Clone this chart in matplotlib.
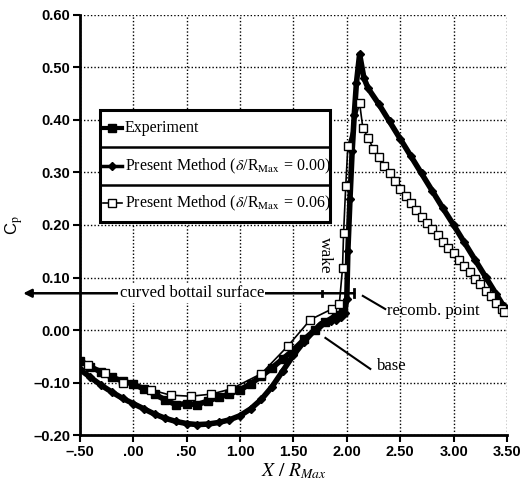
import matplotlib
matplotlib.use('Agg')
import matplotlib.pyplot as plt
from matplotlib.patches import Rectangle

plt.rcParams['mathtext.fontset'] = 'stix'

# Experiment
x_exp = [-0.50, -0.40, -0.30, -0.20, -0.10, 0.00, 0.10, 0.20, 0.30, 0.40, 0.50, 0.60,
         0.70, 0.80, 0.90, 1.00, 1.10, 1.20, 1.30, 1.40, 1.50, 1.60, 1.70, 1.80, 1.90, 1.96]
cp_exp = [-0.058, -0.070, -0.080, -0.090, -0.097, -0.103, -0.112, -0.122, -0.133, -0.142,
          -0.140, -0.142, -0.135, -0.128, -0.122, -0.114, -0.102, -0.088, -0.072, -0.055,
          -0.038, -0.018, 0.000, 0.015, 0.028, 0.035]

# Present Method, delta/R = 0.00
x_m0 = [-0.50, -0.40, -0.30, -0.20, -0.10, 0.00, 0.10, 0.20, 0.30, 0.40, 0.50, 0.60, 0.70,
        0.80, 0.90, 1.00, 1.10, 1.20, 1.30, 1.40, 1.50, 1.60, 1.70, 1.75, 1.80, 1.85, 1.90,
        1.95, 1.98, 2.00, 2.01, 2.03, 2.05, 2.07, 2.09, 2.12, 2.16, 2.20, 2.30, 2.40, 2.50,
        2.60, 2.70, 2.80, 2.90, 3.00, 3.10, 3.20, 3.30, 3.40, 3.47]
cp_m0 = [-0.075, -0.090, -0.105, -0.118, -0.130, -0.140, -0.150, -0.160, -0.168, -0.174,
         -0.178, -0.180, -0.179, -0.176, -0.171, -0.163, -0.150, -0.132, -0.108, -0.078,
         -0.048, -0.022, 0.000, 0.010, 0.015, 0.018, 0.020, 0.025, 0.032, 0.060, 0.150,
         0.250, 0.340, 0.410, 0.470, 0.525, 0.480, 0.460, 0.430, 0.397, 0.364, 0.331, 0.298,
         0.265, 0.232, 0.200, 0.167, 0.134, 0.101, 0.068, 0.045]

# Present Method, delta/R = 0.06
x_m6 = [-0.42, -0.26, -0.10, 0.17, 0.35, 0.54, 0.73, 0.92, 1.20, 1.45, 1.66, 1.86, 1.93,
        1.96, 1.97, 1.99, 2.01, 2.12, 2.15, 2.20, 2.25, 2.30, 2.35, 2.40, 2.45, 2.50, 2.55,
        2.60, 2.65, 2.70, 2.75, 2.80, 2.85, 2.90, 2.95, 3.00, 3.05, 3.10, 3.15, 3.20, 3.25,
        3.30, 3.35, 3.40, 3.45, 3.47]
cp_m6 = [-0.067, -0.082, -0.100, -0.114, -0.124, -0.126, -0.122, -0.112, -0.083, -0.030,
         0.020, 0.040, 0.050, 0.118, 0.185, 0.274, 0.350, 0.432, 0.385, 0.365, 0.345, 0.330,
         0.313, 0.298, 0.284, 0.268, 0.255, 0.241, 0.228, 0.216, 0.204, 0.192, 0.180, 0.168,
         0.157, 0.146, 0.134, 0.122, 0.110, 0.098, 0.087, 0.075, 0.064, 0.052, 0.040, 0.034]

xticks = [-0.5, 0.0, 0.5, 1.0, 1.5, 2.0, 2.5, 3.0, 3.5]
xtick_labels = ['\u2013.50', '.00', '.50', '1.00', '1.50', '2.00', '2.50', '3.00', '3.50']
yticks = [-0.2, -0.1, 0.0, 0.1, 0.2, 0.3, 0.4, 0.5, 0.6]
ytick_labels = ['\u20130.20', '\u20130.10', '0.00', '0.10', '0.20', '0.30', '0.40', '0.50', '0.60']

legend_labels = ['Experiment',
                 r'Present Method ($\delta$/R$_{\rm Max}$ = 0.00)',
                 r'Present Method ($\delta$/R$_{\rm Max}$ = 0.06)']

serif = ['Liberation Serif', 'DejaVu Serif']
tickfont = ['Liberation Sans Narrow', 'Liberation Sans', 'DejaVu Sans']

fig = plt.figure(figsize=(5.32, 4.95), dpi=100)
ax = fig.add_axes([0.150, 0.121, 0.803, 0.849])

ax.plot(x_m0, cp_m0, color='black', lw=4, marker='D', ms=4, zorder=3)
ax.plot(x_exp, cp_exp, color='black', lw=4, marker='s', ms=5.5, zorder=3)
ax.plot(x_m6, cp_m6, color='black', lw=1.2, marker='s', ms=5.5, mfc='white', mec='black',
        mew=1.0, zorder=4)

ax.set_xlim(-0.5, 3.5)
ax.set_ylim(-0.2, 0.6)
ax.set_xticks(xticks)
ax.set_xticklabels(xtick_labels, family=tickfont, weight='bold', fontsize=10.5)
ax.set_yticks(yticks)
ax.set_yticklabels(ytick_labels, family=tickfont, weight='bold', fontsize=10.5)
ax.tick_params(direction='out', length=5, width=1.5, pad=2)

ax.grid(True, color='black', linestyle=(0, (1, 1.5)), lw=1.0)
ax.set_axisbelow(True)
for s in ['top', 'right']:
    ax.spines[s].set_visible(False)
for s in ['left', 'bottom']:
    ax.spines[s].set_linewidth(2)

ax.set_xlabel(r'$X\ /\ R_{Max}$', fontsize=14, labelpad=2)
ax.set_ylabel(r'C$_{\rm p}$', family=tickfont, fontsize=12, labelpad=6)

# curved bottail surface bracket
ax.annotate('', xy=(-1.03, 0.07), xytext=(2.07, 0.07), annotation_clip=False,
            arrowprops=dict(arrowstyle='-|>', color='black', lw=1.8, mutation_scale=12,
                            shrinkA=0, shrinkB=0))
ax.plot([2.07, 2.07], [0.062, 0.078], color='black', lw=2, clip_on=False, zorder=5)
ax.plot([1.77, 1.77], [0.065, 0.075], color='black', lw=2, zorder=5)
ax.text(0.55, 0.07, 'curved bottail surface', family=serif, fontsize=12,
        ha='center', va='center', zorder=6,
        bbox=dict(facecolor='white', edgecolor='none', pad=1))
ax.text(1.80, 0.143, 'wake', family=serif, fontsize=12.5, rotation=-90,
        ha='center', va='center', zorder=6,
        bbox=dict(facecolor='white', edgecolor='none', pad=0.5))

ax.plot([2.15, 2.36], [0.065, 0.040], color='black', lw=1.5, zorder=5)
ax.text(2.38, 0.036, 'recomb. point', family=serif, fontsize=12, ha='left', va='center',
        zorder=6)
ax.plot([1.80, 2.22], [-0.015, -0.074], color='black', lw=1.5, zorder=5)
ax.text(2.28, -0.069, 'base', family=serif, fontsize=12, ha='left', va='center', zorder=6)

# legend box with row dividers
x0, x1 = 0.047, 0.585
ytop, ybot = 0.774, 0.507
ax.add_patch(Rectangle((x0, ybot), x1 - x0, ytop - ybot, transform=ax.transAxes,
                       facecolor='white', edgecolor='black', lw=2.2, zorder=7))
for yd in [0.686, 0.595]:
    ax.plot([x0, x1], [yd, yd], transform=ax.transAxes, color='black', lw=1.8, zorder=8)
rows = [0.731, 0.640, 0.552]
line_w = [3, 2.5, 1.2]
markers = ['s', 'D', 's']
msizes = [5.5, 4.5, 6]
faces = ['black', 'black', 'white']
for yr, lab, lw, mk, ms, fc in zip(rows, legend_labels, line_w, markers, msizes, faces):
    ax.plot([0.054, 0.098], [yr, yr], transform=ax.transAxes, color='black', lw=lw, zorder=9)
    ax.plot([0.076], [yr], transform=ax.transAxes, linestyle='none', marker=mk, ms=ms,
            mfc=fc, mec='black', zorder=10)
    ax.text(0.106, yr, lab, transform=ax.transAxes, family=serif, fontsize=11.5,
            ha='left', va='center', zorder=9)

fig.savefig('out.png', dpi=100)
